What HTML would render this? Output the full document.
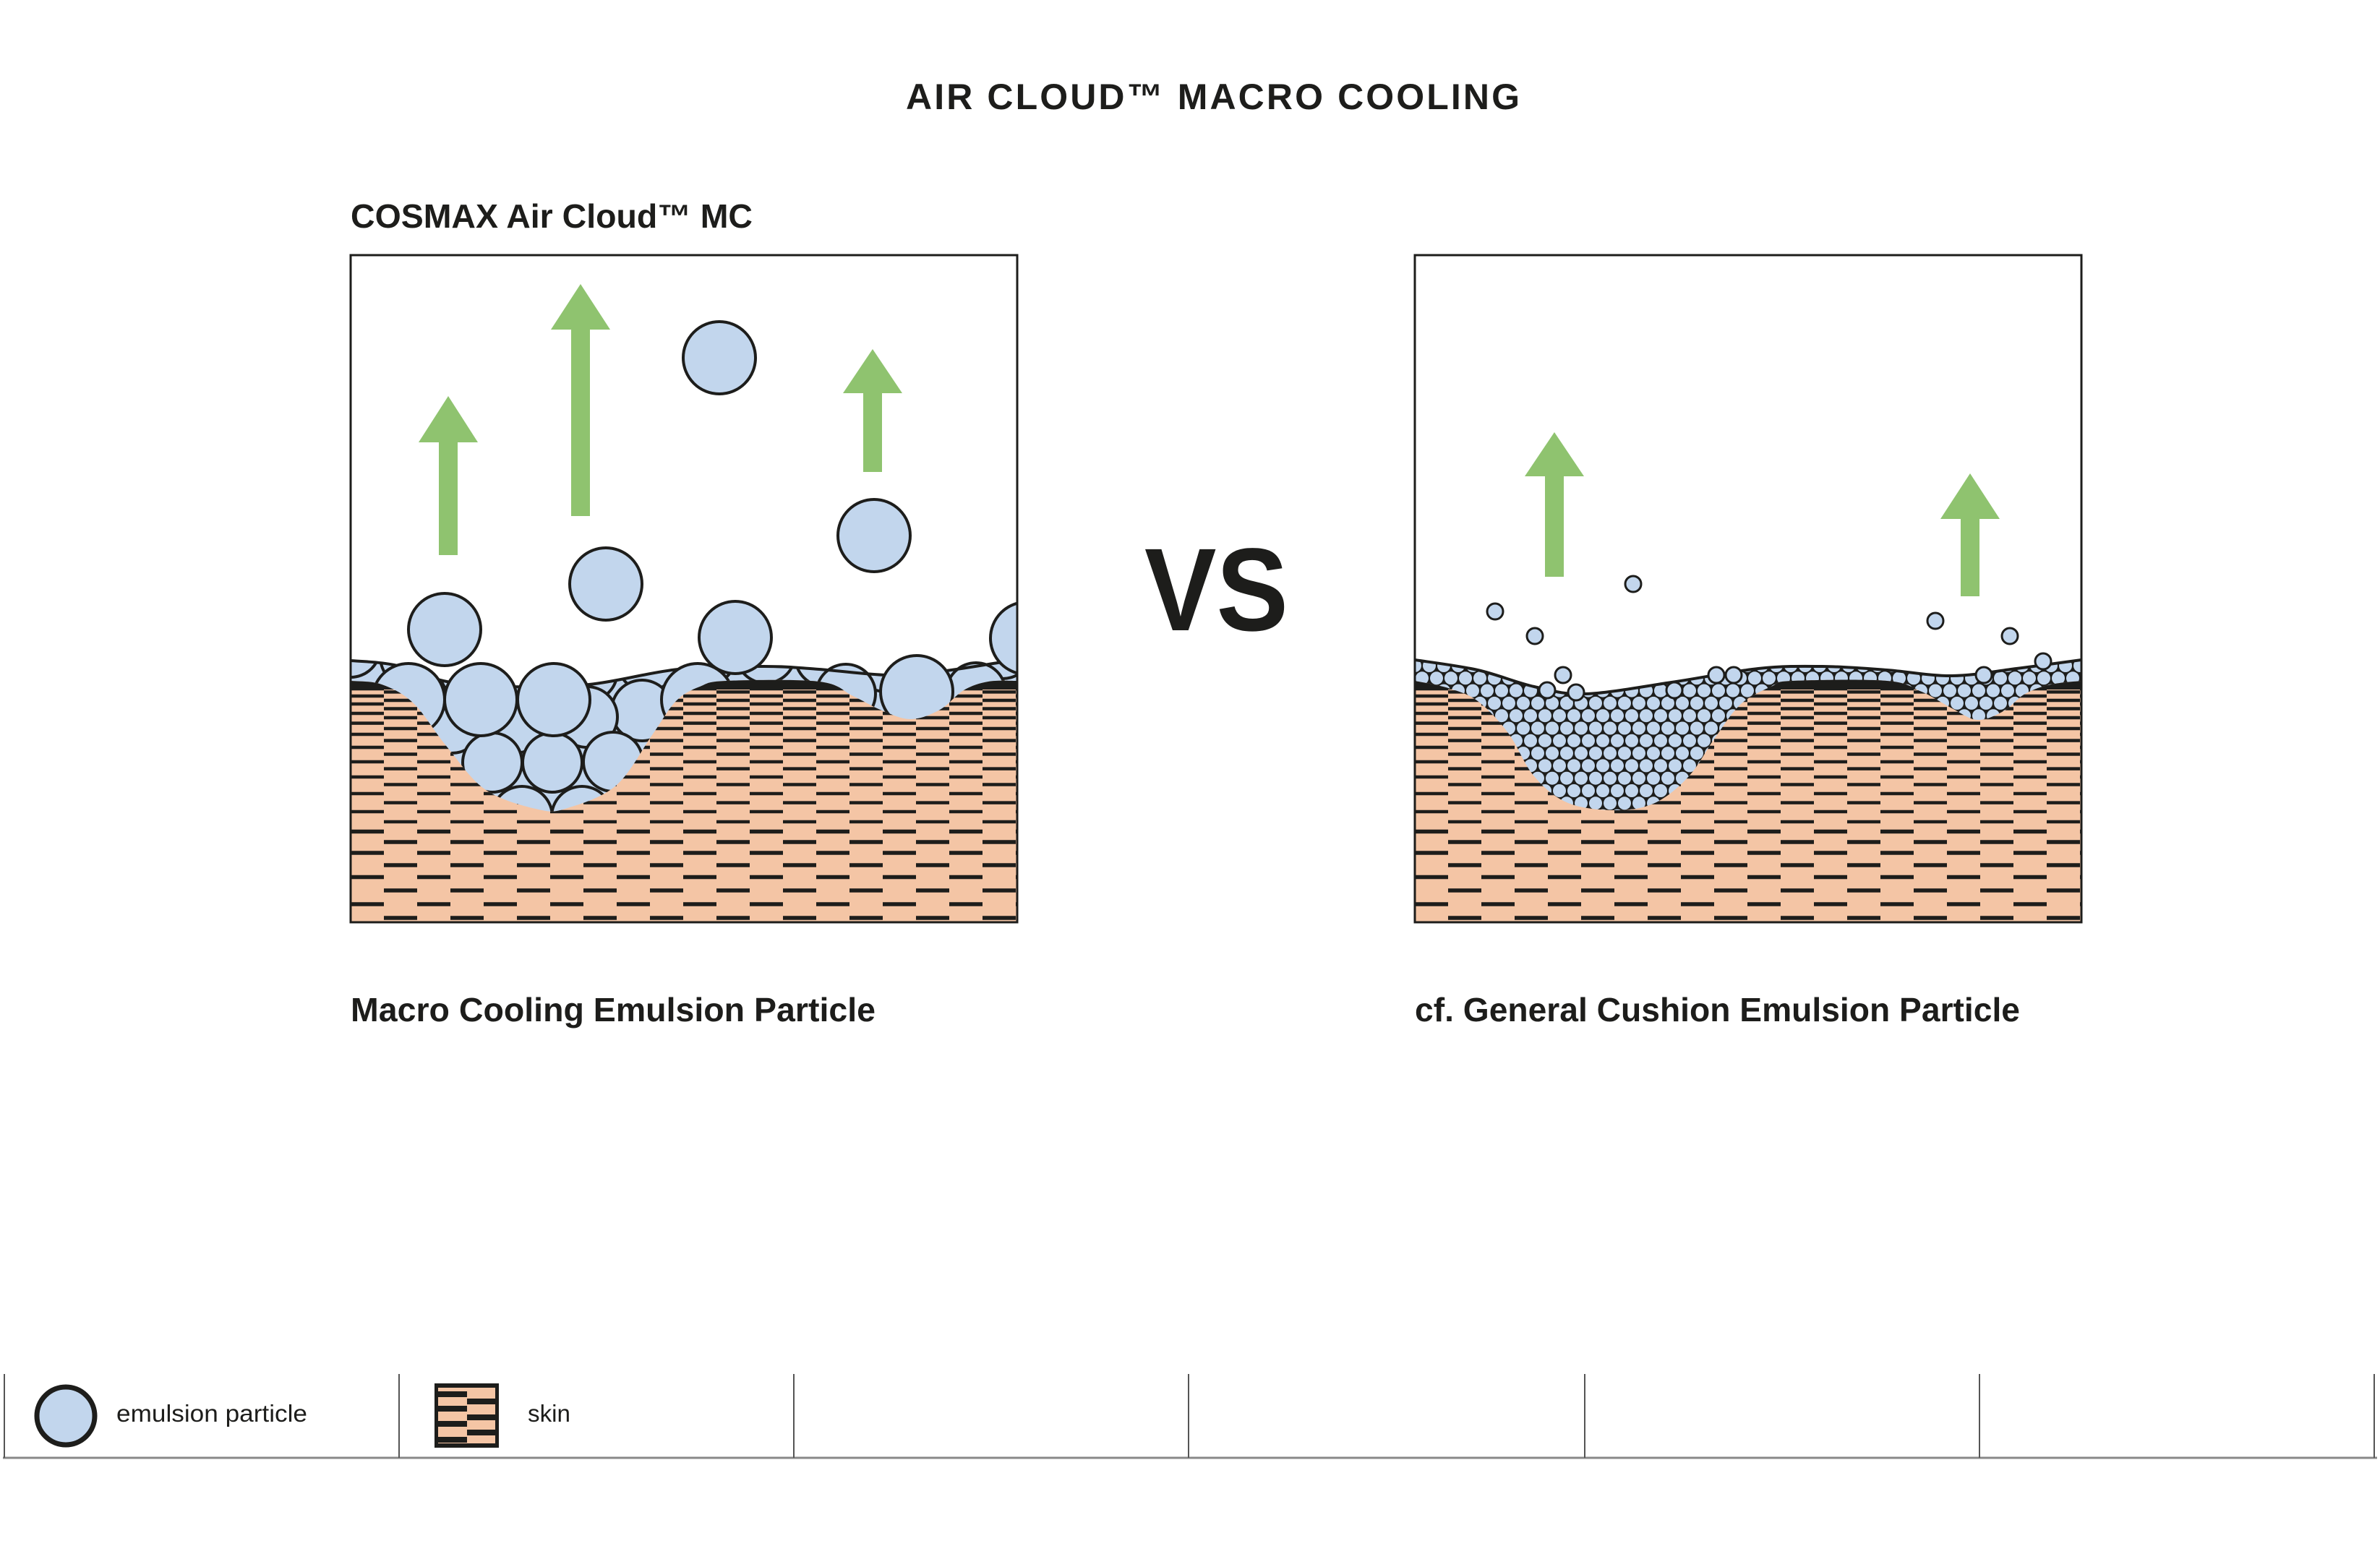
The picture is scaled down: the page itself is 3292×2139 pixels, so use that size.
<!DOCTYPE html>
<html><head><meta charset="utf-8">
<style>
html,body{margin:0;padding:0;background:#fff;}
svg{display:block;}
text{font-family:"Liberation Sans",sans-serif;fill:#1d1d1b;}
</style></head>
<body>
<svg id="s" xmlns="http://www.w3.org/2000/svg" width="3292" height="2139" viewBox="0 0 3292 2139">
<rect width="3292" height="2139" fill="#fff"/>
<text x="1253" y="151" font-size="50" font-weight="bold" textLength="855" lengthAdjust="spacing" style="letter-spacing:6px">AIR CLOUD™ MACRO COOLING</text>
<text x="485" y="315" font-size="46" font-weight="bold" textLength="556" lengthAdjust="spacingAndGlyphs">COSMAX Air Cloud™ MC</text>
<text x="1583" y="872" font-size="163" font-weight="bold" textLength="199" lengthAdjust="spacingAndGlyphs">VS</text>
<text x="485" y="1413" font-size="46" font-weight="bold" textLength="726" lengthAdjust="spacingAndGlyphs">Macro Cooling Emulsion Particle</text>
<text x="1957" y="1413" font-size="46" font-weight="bold" textLength="837" lengthAdjust="spacingAndGlyphs">cf. General Cushion Emulsion Particle</text>
<g id="L"></g>
<g id="R"></g>
<line x1="4" y1="2017" x2="3288" y2="2017" stroke="#888" stroke-width="3"/>
<g stroke="#555" stroke-width="2">
<line x1="6" y1="1901" x2="6" y2="2017"/><line x1="552" y1="1901" x2="552" y2="2017"/>
<line x1="1098" y1="1901" x2="1098" y2="2017"/><line x1="1644" y1="1901" x2="1644" y2="2017"/>
<line x1="2192" y1="1901" x2="2192" y2="2017"/><line x1="2738" y1="1901" x2="2738" y2="2017"/>
<line x1="3284" y1="1901" x2="3284" y2="2017"/>
</g>
<circle cx="91" cy="1959" r="40" fill="#c2d6ed" stroke="#1d1d1b" stroke-width="7"/>
<text x="161" y="1967" font-size="33" textLength="264" lengthAdjust="spacingAndGlyphs">emulsion particle</text>
<rect x="601" y="1914" width="89" height="89" fill="#1d1d1b"/>
<rect x="606" y="1920" width="79" height="77" fill="#f4c5a5"/>
<g fill="#1d1d1b">
<rect x="606" y="1925" width="40" height="8"/><rect x="646" y="1935" width="39" height="8"/>
<rect x="606" y="1945" width="40" height="8"/><rect x="646" y="1957" width="39" height="8"/>
<rect x="606" y="1966" width="40" height="8"/><rect x="646" y="1978" width="39" height="8"/>
<rect x="606" y="1988" width="40" height="8"/>
</g>
<text x="730" y="1967" font-size="33" textLength="59" lengthAdjust="spacingAndGlyphs">skin</text>
</svg>
<script>
var NS="http://www.w3.org/2000/svg";
function el(p,t,a){var e=document.createElementNS(NS,t);for(var k in a)e.setAttribute(k,a[k]);p.appendChild(e);return e;}
function cr(pts){var d="M"+pts[0][0]+","+pts[0][1];for(var i=0;i<pts.length-1;i++){var p0=pts[i-1]||pts[i],p1=pts[i],p2=pts[i+1],p3=pts[i+2]||p2;
var c1=[p1[0]+(p2[0]-p0[0])/6,p1[1]+(p2[1]-p0[1])/6],c2=[p2[0]-(p3[0]-p1[0])/6,p2[1]-(p3[1]-p1[1])/6];
d+=" C"+c1[0].toFixed(1)+","+c1[1].toFixed(1)+" "+c2[0].toFixed(1)+","+c2[1].toFixed(1)+" "+p2[0]+","+p2[1];}return d;}
function interp(pts,x){for(var i=0;i<pts.length-1;i++){if(x>=pts[i][0]&&x<=pts[i+1][0]){var t=(x-pts[i][0])/(pts[i+1][0]-pts[i][0]);return pts[i][1]+t*(pts[i+1][1]-pts[i][1]);}}return pts[pts.length-1][1];}
var svg=document.getElementById("s");
var defs=el(svg,"defs",{});
var BLUE="#c2d6ed",INK="#1d1d1b",SKIN="#f4c5a5",GREEN="#8fc36f";
var rows=[1270,1251,1232,1213.5,1197,1180,1165,1150.5,1137,1123,1110.6,1098,1085.5,1075,1063.6,1054,1043.5,1034,1024.6,1016,1008,1000.6,993,987,980.5,974,969,963,957.4,953];
function arrow(g,x,tip,base,bot){el(g,"polygon",{points:(x-41)+","+base+" "+x+","+tip+" "+(x+41)+","+base+" "+(x+13)+","+base+" "+(x+13)+","+bot+" "+(x-13)+","+bot+" "+(x-13)+","+base,fill:GREEN});}
function panel(id,x0,skinPts,topPts,drawParticles,arrows,floaters){
  var g=document.getElementById(id);var x1=x0+922,y0=353,y1=1276;
  var sk=cr(skinPts)+" L"+x1+","+y1+" L"+x0+","+y1+" Z";
  var ly=cr(topPts)+" L"+x1+","+y1+" L"+x0+","+y1+" Z";
  var cpS=el(defs,"clipPath",{id:id+"s"});el(cpS,"path",{d:sk});
  var cpL=el(defs,"clipPath",{id:id+"l"});el(cpL,"path",{d:ly});
  var cpB=el(defs,"clipPath",{id:id+"b"});el(cpB,"rect",{x:x0,y:y0,width:922,height:923});
  var gb=el(g,"g",{"clip-path":"url(#"+id+"b)"});
  arrows.forEach(function(a){arrow(gb,a[0],a[1],a[2],a[3]);});
  el(gb,"path",{d:ly,fill:BLUE});
  var gl=el(gb,"g",{"clip-path":"url(#"+id+"l)"});
  drawParticles(gl,gb);
  el(gb,"path",{d:cr(topPts),fill:"none",stroke:INK,"stroke-width":4});
  floaters(gb);
  var gs=el(gb,"g",{"clip-path":"url(#"+id+"s)"});
  el(gs,"rect",{x:x0,y:900,width:922,height:380,fill:SKIN});
  el(gs,"rect",{x:x0,y:935,width:922,height:19,fill:INK});
  rows.forEach(function(y,i){var off=(i%2==0)?46:0;var h=i<8?5.5:4.5;
    for(var x=x0+off-92;x<x1;x+=92){el(gs,"rect",{x:x,y:y-h/2,width:46,height:h,fill:INK});}});
  el(g,"rect",{x:x0,y:y0,width:922,height:923,fill:"none",stroke:INK,"stroke-width":3});
}
var lSkin=[[485,942],[528,947],[572,973],[618,1033],[672,1093],[745,1120],[785,1118],[852,1087],[902,1017],[935,970],[968,950],[1005,942],[1133,943],[1180,963],[1220,983],[1260,995],[1300,982],[1333,955],[1367,943],[1407,942]];
var lTop=[[485,914],[545,920],[618,943],[700,950],[815,947],[938,926],[1057,922],[1133,926],[1227,934],[1300,929],[1380,917],[1407,913]];
panel("L",485,lSkin,lTop,function(gl,gb){
  var st={fill:BLUE,stroke:INK,"stroke-width":4};
  for(var x=485;x<1420;x+=82){var y=interp(lTop,x)-18;var c=el(gl,"circle",{cx:x,cy:y,r:41});for(var k in st)c.setAttribute(k,st[k]);}
  var back=[[625,1000,42],[888,983,42],[812,992,42],[712,1000,42],[1170,960,41],[1350,958,41]];
  var mid=[[722,1130,42],[805,1130,42],[681,1055,41],[764,1055,41],[848,1054,41]];
  var big=[[565,968,50],[665,968,50],[766,968,50],[965,968,50],[1268,957,50],[615,871,50],[838,808,50],[1017,882,50],[1420,883,50],[995,495,50],[1209,741,50]];
  back.concat(mid).forEach(function(c){el(gb,"circle",{cx:c[0],cy:c[1],r:c[2],fill:BLUE,stroke:INK,"stroke-width":4});});
  gb._big=big;
},[[620,548,612,768],[803,393,456,714],[1207,483,544,653]],function(gb){
  gb._big.forEach(function(c){el(gb,"circle",{cx:c[0],cy:c[1],r:c[2],fill:BLUE,stroke:INK,"stroke-width":4});});
});
var rSkin=[[1957,942],[2003,952],[2044,970],[2086,1014],[2122,1074],[2169,1111],[2235,1121],[2289,1111],[2336,1074],[2372,1021],[2408,974],[2450,950],[2479,942],[2610,942],[2658,957],[2700,980],[2735,996],[2771,984],[2801,960],[2837,947],[2879,942]];
var rTop=[[1957,913],[2044,927],[2122,950],[2193,960],[2312,944],[2432,925],[2521,922],[2610,927],[2700,935],[2789,925],[2879,913]];
panel("R",1957,rSkin,rTop,function(gl,gb){
  el(gl,"rect",{x:1957,y:900,width:922,height:380,fill:INK});
  var j=0;for(var y=921;y<1135;y+=17.3,j++){for(var x=1957+(j%2?10:0);x<2890;x+=20){el(gl,"circle",{cx:x,cy:y,r:9,fill:BLUE});}}
},[[2150,598,659,798],[2725,655,718,825]],function(gb){
  [[2068,846],[2123,880],[2259,808],[2677,859],[2780,880],[2162,934],[2826,915],[2744,934],[2398,934],[2374,934],[2316,955],[2140,955],[2180,958]].forEach(function(c){
    el(gb,"circle",{cx:c[0],cy:c[1],r:11,fill:BLUE,stroke:INK,"stroke-width":3});});
});
</script>
</body></html>
